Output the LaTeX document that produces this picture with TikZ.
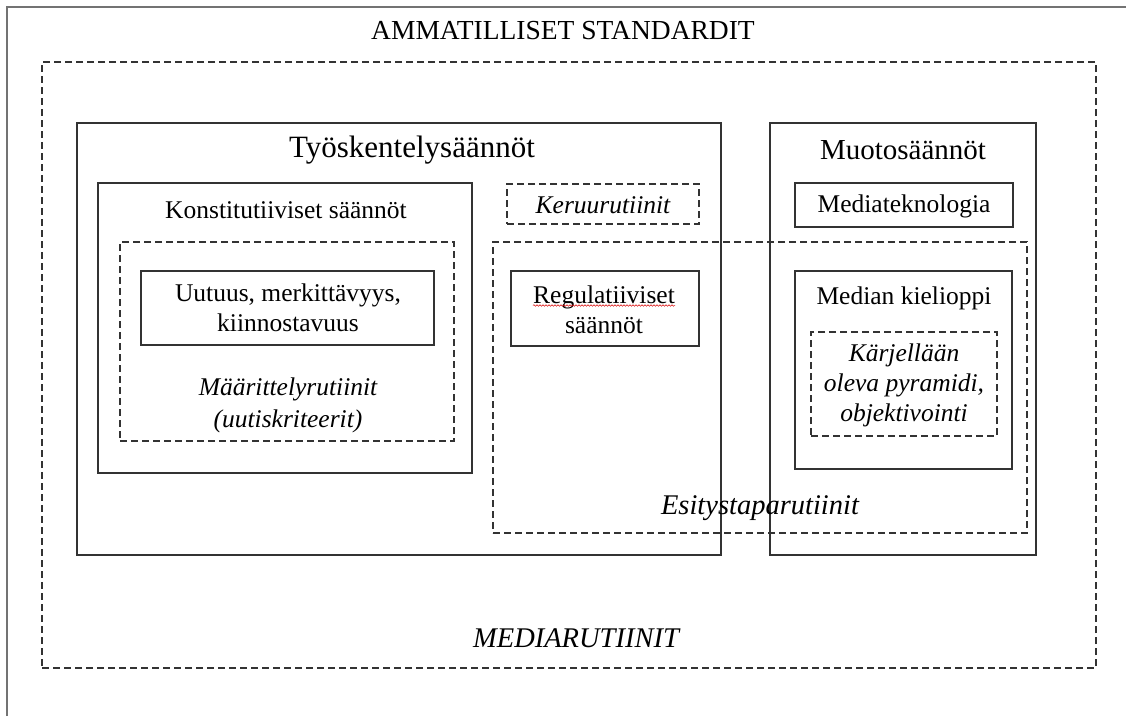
\documentclass[tikz,border=0pt]{standalone}
\usepackage{fontspec}
\setmainfont{Liberation Serif}
\usetikzlibrary{decorations.pathmorphing}
\begin{document}
\begin{tikzpicture}[x=1pt,y=-1pt,
  box/.style={draw=black!80, line width=1.1pt, inner sep=0pt, outer sep=0pt},
  dbox/.style={draw=black!80, line width=1.1pt, dash pattern=on 7pt off 4pt, inner sep=0pt, outer sep=0pt},
  lbl/.style={font=\fontsize{25.5}{30}\selectfont, align=center, inner sep=0pt},
  ilbl/.style={lbl, font=\fontsize{25.5}{30}\selectfont\itshape},
  bigi/.style={lbl, font=\fontsize{28.5}{33}\selectfont\itshape}]
\useasboundingbox (0,0) rectangle (1126,716);
\fill[white] (0,0) rectangle (1126,716);
\coordinate (ob) at (7,716);
\coordinate (otl) at (7,7);
\coordinate (orr) at (1126,7);
\draw[line width=2.4pt, draw=black!55] (ob) -- (otl) -- (orr);

% boxes
\node[dbox, minimum width=1054pt, minimum height=606pt] (med) at (569,365) {};
\node[box, minimum width=644pt, minimum height=432pt] (tyo) at (399,339) {};
\node[box, minimum width=266pt, minimum height=432pt] (muo) at (903,339) {};
\node[dbox, minimum width=534pt, minimum height=291pt] (esi) at (760,387.5) {};
\node[box, minimum width=374pt, minimum height=290pt] (kon) at (285,328) {};
\node[dbox, minimum width=334pt, minimum height=199pt] (maa) at (287,341.5) {};
\node[box, minimum width=293pt, minimum height=74pt] (uut) at (287.5,308) {};
\node[dbox, minimum width=192pt, minimum height=40pt] (ker) at (603,204) {};
\node[box, minimum width=188pt, minimum height=75pt] (reg) at (605,308.5) {};
\node[box, minimum width=218pt, minimum height=44pt] (mtk) at (904,205) {};
\node[box, minimum width=217pt, minimum height=198pt] (mki) at (903.5,370) {};
\node[dbox, minimum width=186pt, minimum height=104pt] (kar) at (904,384) {};

% labels
\node[lbl, font=\fontsize{27.5}{32}\selectfont] (tAmm) at (563,31) {AMMATILLISET STANDARDIT};
\node[lbl, font=\fontsize{31}{36}\selectfont] (tTyo) at (412,150) {Työskentelysäännöt};
\node[lbl, font=\fontsize{29}{34}\selectfont] (tMuo) at (903,150) {Muotosäännöt};
\node[lbl] (tKon) at (286,210) {Konstitutiiviset säännöt};
\node[ilbl] (tKer) at (603,205) {Keruurutiinit};
\node[lbl] (tMtk) at (904,206) {Mediateknologia};
\node[lbl] (tUut) at (288,308) {Uutuus, merkittävyys,\\kiinnostavuus};
\node[lbl, anchor=base] (tReg1) at (604,303) {Regulatiiviset};
\node[lbl, anchor=base] (tReg2) at (604,333) {säännöt};
\draw[red!85!black, line width=0.5pt, decorate, decoration={snake, amplitude=0.8pt, segment length=3pt}]
  ([yshift=-2.5pt]tReg1.base west) -- ([yshift=-2.5pt]tReg1.base east);
\node[lbl] (tMki) at (904,298) {Median kielioppi};
\node[ilbl] (tKar) at (904,385) {Kärjellään\\oleva pyramidi,\\objektivointi};
\node[ilbl, font=\fontsize{25.5}{32}\selectfont\itshape] (tMaa) at (288,405) {Määrittelyrutiinit\\(uutiskriteerit)};
\node[bigi] (tEsi) at (760,508) {Esitystaparutiinit};
\node[bigi] (tMed) at (576,638) {MEDIARUTIINIT};
\end{tikzpicture}
\end{document}
